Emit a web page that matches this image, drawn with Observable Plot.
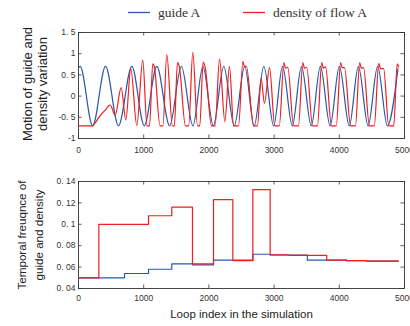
<!DOCTYPE html>
<html><head><meta charset="utf-8">
<script src="https://cdn.jsdelivr.net/npm/d3@7"></script>
<script src="https://cdn.jsdelivr.net/npm/@observablehq/plot@0.6"></script>
<style>
html,body{margin:0;padding:0;background:#fff;}
#wrap{position:relative;width:410px;height:326px;overflow:hidden;background:#fff;}
#wrap > *{position:absolute;left:0;}
</style></head><body><div id="wrap"></div>
<script>
const seriesNames = ["guide A", "density of flow A"];
const seriesColors = ["#2a58ad", "#f01e1e"];
const xTicks = [0, 1000, 2000, 3000, 4000, 5000];
const xTickLabels = ["0", "1000", "2000", "3000", "4000", "5000"];
const yTicksTop = [-1, -0.5, 0, 0.5, 1, 1.5];
const yTickLabelsTop = ["-1", "-0. 5", "0", "0. 5", "1", "1. 5"];
const yTicksBottom = [0.04, 0.06, 0.08, 0.1, 0.12, 0.14];
const yTickLabelsBottom = ["0. 04", "0. 06", "0. 08", "0. 1", "0. 12", "0. 14"];
const yLabelTop = ["Motion of guide and", "density variation"];
const yLabelBottom = ["Temporal freuqnce of", "guide and density"];
const xLabelBottom = "Loop index in the simulation";

// [loop index, value] (extremes of each swing)
const guideMotion = [
  [0,0.66],[25,0.7],[217,-0.7],[415,0.7],[613,-0.7],[818,0.7],[1009,-0.7],[1201,0.7],
  [1398,-0.7],[1578,0.7],[1755,-0.7],[1908,0.7],[2068,-0.7],[2228,0.7],[2388,-0.7],
  [2550,0.7],[2694,-0.7],[2843,0.7],[2993,-0.7],[3130,0.7],[3279,-0.7],[3420,0.7],
  [3570,-0.7],[3710,0.7],[3859,-0.7],[4001,0.7],[4153,-0.7],[4293,0.7],[4442,-0.7],
  [4588,0.7],[4738,-0.7],[4900,0.65]
];
const densityMotion = [
  [0,-0.7],[215,-0.7],[270,-0.6],[333,-0.46],[410,-0.33],[486,-0.21],[563,-0.45],
  [654,0.2],[726,-0.56],[802,0.65],[894,-0.69],[986,0.85],[1050,-0.7],[1090,-0.7],
  [1139,0.76],[1165,0.68],[1250,-0.7],[1295,-0.7],[1354,0.98],[1440,-0.7],[1470,-0.7],
  [1518,0.79],[1548,0.68],[1640,-0.7],[1690,-0.7],[1753,1.03],[1825,-0.7],[1860,-0.7],
  [1912,0.8],[1945,0.66],[2040,-0.7],[2095,-0.7],[2163,0.87],[2245,-0.6],[2315,0.7],
  [2380,-0.7],[2455,-0.7],[2522,0.82],[2545,0.69],[2575,0.71],[2685,-0.7],[2745,-0.7],
  [2800,0.42],[2852,-0.17],[2930,0.67],[3010,-0.7],[3080,-0.7],
  [3150,0.79],[3175,0.66],[3210,0.68],[3299,-0.7],[3374,-0.7],
  [3440,0.79],[3465,0.66],[3500,0.68],[3590,-0.7],[3665,-0.7],
  [3730,0.79],[3755,0.66],[3790,0.69],[3879,-0.7],[3954,-0.7],
  [4020,0.79],[4045,0.67],[4080,0.67],[4173,-0.7],[4248,-0.7],
  [4312,0.79],[4337,0.66],[4372,0.67],[4462,-0.7],[4537,-0.7],
  [4605,0.77],[4632,0.65],[4680,0.65],[4758,-0.7],[4835,-0.7],
  [4888,0.76],[4910,0.69]
];
// step changes [loop index, frequency]
const guideFreq = [
  [0,0.05],[706,0.054],[1074,0.058],[1431,0.063],[1748,0.062],[2071,0.0665],
  [2674,0.072],[2940,0.0713],[3510,0.0665],[4114,0.066],[4420,0.0656],[4905,0.0656]
];
const densityFreq = [
  [0,0.05],[312,0.1],[1074,0.108],[1431,0.116],[1748,0.063],[2071,0.123],[2367,0.066],
  [2674,0.1325],[2940,0.0715],[3230,0.071],[3807,0.0665],[4114,0.066],[4420,0.0656],[4905,0.0656]
];

const wrap = document.getElementById("wrap");
const axisColor = "#333";
const fmtMap = (ticks, labels) => { const m = new Map(ticks.map((t, i) => [t, labels[i]])); return d => m.get(d); };

function inwardTicks(xt, yt, fw, fh, len) {
  const o = {stroke: axisColor, strokeWidth: 0.8};
  return [
    Plot.ruleX(xt, {x: d => d, insetTop: fh - len, ...o}),
    Plot.ruleX(xt, {x: d => d, insetBottom: fh - len, ...o}),
    Plot.ruleY(yt, {y: d => d, insetRight: fw - len, ...o}),
    Plot.ruleY(yt, {y: d => d, insetLeft: fw - len, ...o})
  ];
}

const W = 410, ML = 78, MR = 6;
const fw = W - ML - MR;

// top chart
const topH = 136, topMT = 8, topMB = 22;
const topPlot = Plot.plot({
  width: W, height: topH, marginTop: topMT, marginBottom: topMB, marginLeft: ML, marginRight: MR,
  style: {fontFamily: "Liberation Sans", fontSize: "8.5px", color: axisColor, background: "transparent"},
  x: {domain: [0, 5000], ticks: xTicks, tickFormat: fmtMap(xTicks, xTickLabels), tickSize: 0, tickPadding: 8, label: null},
  y: {domain: [-1, 1.5], ticks: yTicksTop, tickFormat: fmtMap(yTicksTop, yTickLabelsTop), tickSize: 0, tickPadding: 3, label: null},
  marks: [
    Plot.frame({stroke: axisColor, strokeWidth: 0.9}),
    ...inwardTicks(xTicks, yTicksTop, fw, topH - topMT - topMB, 3.5),
    Plot.line(guideMotion, {x: d => d[0], y: d => d[1], stroke: seriesColors[0], strokeWidth: 1.2, curve: "monotone-x"}),
    Plot.line(densityMotion, {x: d => d[0], y: d => d[1], stroke: seriesColors[1], strokeWidth: 1.2, curve: "monotone-x"})
  ]
});
topPlot.style.top = "24px";
wrap.appendChild(topPlot);

// bottom chart
const botH = 166, botMT = 21, botMB = 38;
const botPlot = Plot.plot({
  width: W, height: botH, marginTop: botMT, marginBottom: botMB, marginLeft: ML, marginRight: MR,
  style: {fontFamily: "Liberation Sans", fontSize: "8.5px", color: axisColor, background: "transparent"},
  x: {domain: [0, 5000], ticks: xTicks, tickFormat: fmtMap(xTicks, xTickLabels), tickSize: 0, tickPadding: 6, label: null},
  y: {domain: [0.04, 0.14], ticks: yTicksBottom, tickFormat: fmtMap(yTicksBottom, yTickLabelsBottom), tickSize: 0, tickPadding: 3, label: null},
  marks: [
    Plot.frame({stroke: axisColor, strokeWidth: 0.9}),
    ...inwardTicks(xTicks, yTicksBottom, fw, botH - botMT - botMB, 3.5),
    Plot.line(guideFreq, {x: d => d[0], y: d => d[1], stroke: seriesColors[0], strokeWidth: 1.2, curve: "step-after"}),
    Plot.line(densityFreq, {x: d => d[0], y: d => d[1], stroke: seriesColors[1], strokeWidth: 1.2, curve: "step-after"}),
    Plot.text([xLabelBottom], {text: d => d, frameAnchor: "bottom", dy: 29, fontSize: 11.5, fill: "#222", fontFamily: "Liberation Sans"})
  ]
});
botPlot.style.top = "160px";
wrap.appendChild(botPlot);

// overlay: legend and rotated axis titles
const ov = d3.create("svg").attr("width", 410).attr("height", 326).style("top", "0px").style("pointer-events", "none");
const legX = [128, 243];
seriesNames.forEach((name, i) => {
  ov.append("line").attr("x1", legX[i]).attr("x2", legX[i] + 22).attr("y1", 12.5).attr("y2", 12.5)
    .attr("stroke", seriesColors[i]).attr("stroke-width", 1.3);
  ov.append("text").attr("x", legX[i] + 30).attr("y", 16.5).text(name)
    .attr("font-family", "Liberation Serif").attr("font-size", 13.5).attr("fill", "#333");
});
function rotLabel(lines, x, y, size, gap) {
  const t = ov.append("text").attr("transform", `translate(${x},${y}) rotate(-90)`)
    .attr("text-anchor", "middle").attr("font-family", "Liberation Sans").attr("font-size", size).attr("fill", "#222");
  lines.forEach((s, i) => t.append("tspan").attr("x", 0).attr("y", i * gap).text(s));
}
rotLabel(yLabelTop, 31.5, 84, 13, 15.5);
rotLabel(yLabelBottom, 25.5, 235, 11.6, 17);
wrap.appendChild(ov.node());
</script></body></html>
